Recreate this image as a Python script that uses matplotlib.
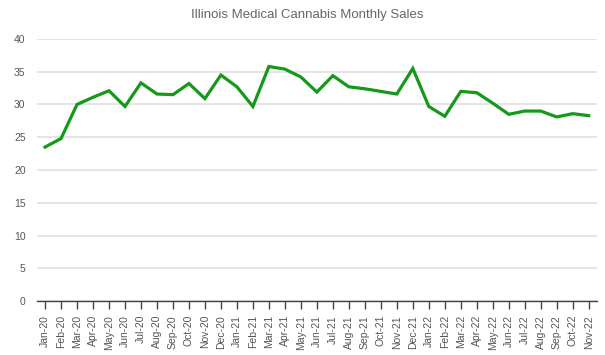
import numpy as np
import matplotlib
matplotlib.use("Agg")
import matplotlib.pyplot as plt

# monthly sales
months = ["Jan-20", "Feb-20", "Mar-20", "Apr-20", "May-20", "Jun-20", "Jul-20", "Aug-20",
          "Sep-20", "Oct-20", "Nov-20", "Dec-20", "Jan-21", "Feb-21", "Mar-21", "Apr-21",
          "May-21", "Jun-21", "Jul-21", "Aug-21", "Sep-21", "Oct-21", "Nov-21", "Dec-21",
          "Jan-22", "Feb-22", "Mar-22", "Apr-22", "May-22", "Jun-22", "Jul-22", "Aug-22",
          "Sep-22", "Oct-22", "Nov-22"]
sales = [23.5, 24.8, 30.0, 31.1, 32.1, 29.7, 33.3, 31.6, 31.5, 33.2, 30.9, 34.5,
         32.7, 29.7, 35.8, 35.4, 34.2, 31.9, 34.4, 32.7, 32.4, 32.0, 31.6, 35.5,
         29.7, 28.2, 32.0, 31.8, 30.2, 28.5, 29.0, 29.0, 28.1, 28.6, 28.3]
yticks = [0, 5, 10, 15, 20, 25, 30, 35, 40]

plt.rcParams['font.family'] = ['Liberation Sans', 'DejaVu Sans']

fig = plt.figure(figsize=(6.05, 3.55), dpi=100)
ax = fig.add_axes([36.7/605, 1-301/355, (596.7-36.7)/605, (301-39)/355])

x = np.arange(len(months))
ax.plot(x, sales, color="#16991a", lw=2.3, solid_joinstyle="miter")

ax.set_xlim(-0.52, 34.5)
ax.set_ylim(0, 40)
ax.set_yticks(yticks)
ax.set_xticks(x)
ax.set_xticklabels(months, rotation=90, fontsize=7.5, color="#555555")
ax.tick_params(axis="y", length=0, labelsize=7.5, labelcolor="#555555", pad=8)
ax.tick_params(axis="x", length=6, width=1, color="#444444", pad=4)

ax.grid(axis="y", color="#e3e3e3", lw=1.3)
ax.set_axisbelow(True)
for s in ["top", "right", "left"]:
    ax.spines[s].set_visible(False)
ax.spines["bottom"].set_color("#444444")
ax.spines["bottom"].set_linewidth(1)

fig.text(307/605, 1-15/355, "Illinois Medical Cannabis Monthly Sales", ha="center", va="center",
         fontsize=9.5, color="#666666")

fig.savefig("out.png", dpi=100)
